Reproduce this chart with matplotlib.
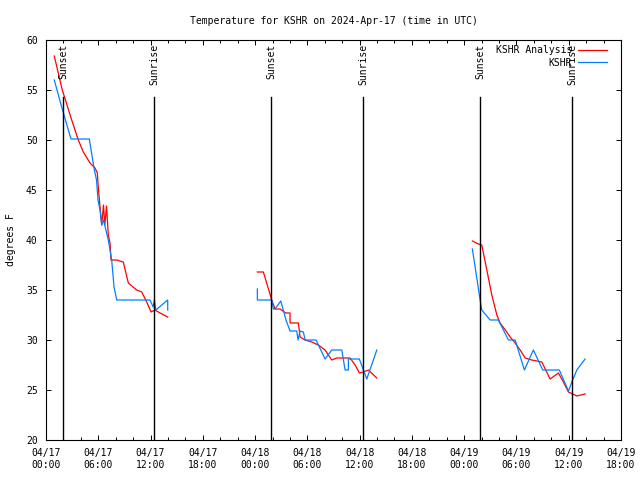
import numpy as np
import matplotlib
matplotlib.use("Agg")
import matplotlib.pyplot as plt
import matplotlib.dates as mdates

# hours after 2024-04-17 00:00 UTC, temperature in F
ana_h = [[0.95, 1.87, 2.95, 3.71, 4.28, 5.05, 5.63, 5.89, 6.0, 6.2, 6.39, 6.6, 6.75, 6.95, 7.15,
          7.35, 7.46, 8.12, 8.87, 9.45, 9.99, 10.41, 10.99, 11.56, 12.06, 12.51, 13.09, 13.97],
         [24.26, 24.95, 25.91, 26.29, 26.87, 27.52, 28.01, 28.01, 28.97, 29.16, 29.74, 30.5, 31.26,
          32.03, 32.8, 33.38, 34.13, 34.9, 35.48, 35.97, 36.43, 37.0, 37.97],
         [48.94, 49.63, 50.02, 50.6, 51.17, 51.75, 52.12, 52.89, 53.27, 53.85, 54.42, 55.0, 55.76,
          56.91, 57.86, 58.82, 59.39, 59.97, 60.93, 61.88]]
ana_t = [[58.4, 55.0, 52.0, 50.0, 48.8, 47.7, 47.2, 46.7, 45.3, 43.3, 41.5, 43.5, 41.5, 43.4, 40.5,
          39.7, 38.0, 38.0, 37.8, 35.7, 35.3, 35.0, 34.8, 33.8, 32.8, 33.0, 32.7, 32.3],
         [36.8, 36.8, 34.0, 33.1, 33.1, 32.7, 32.7, 31.7, 31.7, 30.3, 30.0, 29.8, 29.5,
          29.0, 28.0, 28.2, 28.2, 28.2, 27.5, 26.7, 26.8, 27.0, 26.2],
         [39.9, 39.6, 39.5, 37.0, 34.5, 32.5, 31.7, 30.8, 30.3, 29.7, 29.0, 28.2, 28.0,
          27.8, 26.1, 26.7, 25.8, 24.8, 24.4, 24.6]]

obs_h = [[0.95, 1.80, 2.87, 4.97, 5.55, 5.8, 5.97, 6.2, 6.4, 6.6, 7.15, 7.54, 7.81, 8.12, 11.94,
          12.3, 12.45, 12.6, 13.97, 13.97],
         [24.26, 24.26, 25.91, 26.1, 26.29, 26.95, 27.55, 28.01, 28.78, 28.93, 29.16, 29.54, 29.74,
          31.0, 32.03, 32.8, 33.95, 34.33, 34.71, 34.71, 35.97, 36.43, 36.82, 37.97],
         [48.94, 49.83, 50.02, 50.98, 51.93, 53.08, 53.85, 54.91, 55.94, 57.02, 58.92, 59.97,
          60.36, 60.93, 61.88]]
obs_t = [[56.0, 53.3, 50.1, 50.1, 47.0, 46.0, 44.0, 43.0, 41.5, 42.0, 40.0, 38.0, 35.3, 34.0, 34.0,
          33.3, 34.0, 33.0, 34.0, 33.0],
         [35.1, 34.0, 34.0, 33.1, 33.1, 33.9, 32.0, 30.9, 30.9, 30.0, 30.9, 30.8, 30.0,
          30.0, 28.1, 29.0, 29.0, 27.0, 27.0, 28.1, 28.1, 27.0, 26.1, 29.0],
         [39.1, 34.0, 33.0, 32.0, 32.0, 30.0, 30.0, 27.0, 29.0, 27.0, 27.0, 24.9,
          25.8, 27.0, 28.1]]

sun_h = [1.95, 12.4, 25.83, 36.4, 49.83, 60.4]
sun_lbl = ["Sunset", "Sunrise", "Sunset", "Sunrise", "Sunset", "Sunrise"]

base = np.datetime64("2024-04-17T00:00")


def to_dt(hours):
    return base + (np.array(hours) * 3600).astype("timedelta64[s]")


plt.rcParams["font.family"] = "DejaVu Sans Mono"
plt.rcParams["font.size"] = 7

fig = plt.figure(figsize=(6.4, 4.8), dpi=100)
ax = fig.add_axes([46 / 640, 40 / 480, 575 / 640, 400 / 480])

for i in range(3):
    ax.plot(to_dt(ana_h[i]), ana_t[i], color="#ff0000", lw=0.9,
            label="KSHR Analysis" if i == 0 else None)
for i in range(3):
    ax.plot(to_dt(obs_h[i]), obs_t[i], color="#0080ff", lw=0.9,
            label="KSHR" if i == 0 else None)

for h, s in zip(sun_h, sun_lbl):
    d = to_dt([h])[0]
    ax.plot([d, d], [20, 54.3], color="black", lw=1.0)
    ax.text(d, 59.6, s, rotation=90, ha="center", va="top", fontsize=7)

ax.set_xlim(to_dt([0])[0], to_dt([66])[0])
ax.set_ylim(20, 60)
ax.set_yticks(np.arange(20, 61, 5))
ax.xaxis.set_major_locator(mdates.HourLocator(byhour=[0, 6, 12, 18]))
ax.xaxis.set_minor_locator(mdates.HourLocator(interval=2))
ax.xaxis.set_major_formatter(mdates.DateFormatter("%m/%d\n%H:%M"))
ax.tick_params(which="both", direction="in", top=True, right=True, width=0.7)
ax.tick_params(which="major", length=3.5, pad=6)
ax.tick_params(which="minor", length=2.5)
for sp in ax.spines.values():
    sp.set_linewidth(0.8)

ax.set_title("Temperature for KSHR on 2024-Apr-17 (time in UTC)", fontsize=7, pad=11.5)
ax.set_ylabel("degrees F", fontsize=7, labelpad=7)
ax.legend(loc="upper right", frameon=False, markerfirst=False, handlelength=3.0,
          handletextpad=0.6, labelspacing=0.25, borderaxespad=0.15,
          bbox_to_anchor=(0.985, 1.0), fontsize=7)

fig.savefig("out.png", dpi=100)
